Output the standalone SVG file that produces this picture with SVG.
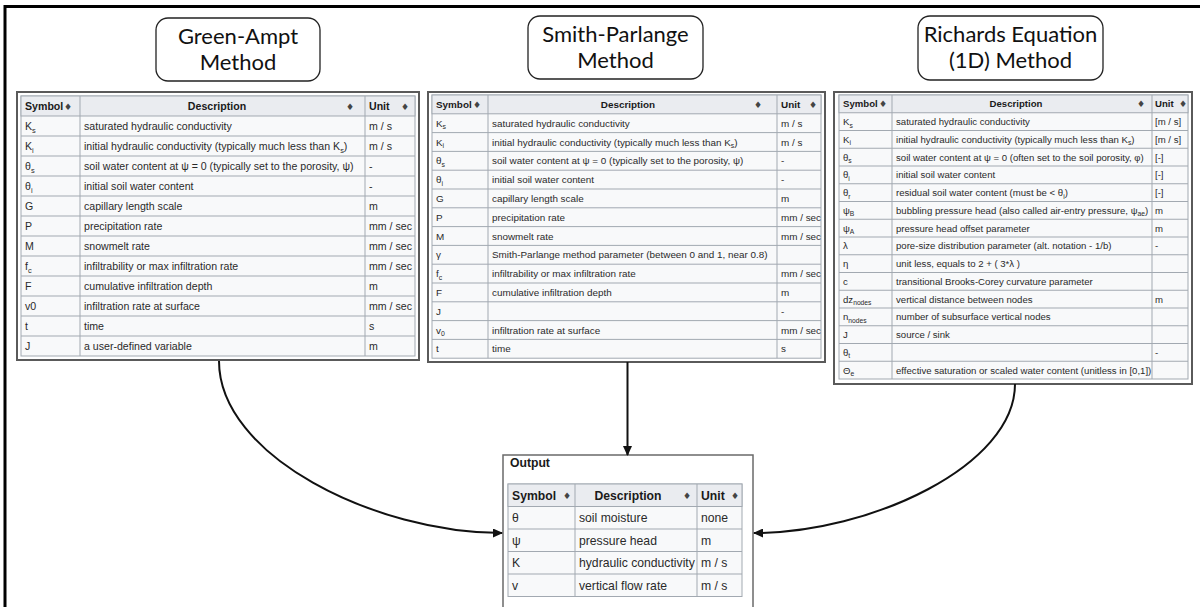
<svg xmlns="http://www.w3.org/2000/svg" width="1200" height="607" viewBox="0 0 1200 607">
  <style>
    .title{font-family:Lato,"Open Sans","Liberation Sans",sans-serif;font-size:22px;fill:#111;text-anchor:middle}
    .tbox{fill:#fff;stroke:#222;stroke-width:1.3}
    .frame{fill:#fff;stroke:#5a5a5a;stroke-width:2}
    .body{fill:#f8f9fa;stroke:#a2a9b1;stroke-width:1}
    .head{fill:#eaecf0;stroke:#a2a9b1;stroke-width:1}
    .grid{fill:none;stroke:#a2a9b1;stroke-width:1}
    .t{font-family:"Liberation Sans",Arial,sans-serif;fill:#2a2a2a}
    .L{font-size:10.6px}
    .M{font-size:9.9px}
    .R{font-size:9.6px}
    .O{font-size:12.2px}
    .b{font-weight:bold;fill:#1a1a1a}
    .sb{font-size:70%}
    .srt{font-family:"DejaVu Sans",sans-serif;font-size:9px;fill:#444}
    .mid{text-anchor:middle}
    .conn{fill:none;stroke:#111;stroke-width:2}
  </style>
  <defs>
    <marker id="arrow" markerUnits="userSpaceOnUse" markerWidth="10" markerHeight="9" refX="9" refY="4.5" orient="auto">
      <path d="M0,0 L10,4.5 L0,9 z" fill="#111"/>
    </marker>
  </defs>

  <rect width="1200" height="607" fill="#fff"/>
  <!-- page border -->
  <path d="M5,607 V6.5 H1200" fill="none" stroke="#000" stroke-width="3"/>

  <!-- method headings -->
  <g id="title-green-ampt">
    <rect class="tbox" x="156" y="18" width="164" height="63" rx="12"/>
    <text class="title" x="238" y="44">Green-Ampt</text>
    <text class="title" x="238" y="70">Method</text>
  </g>
  <g id="title-smith-parlange">
    <rect class="tbox" x="528" y="16" width="175" height="63" rx="12"/>
    <text class="title" x="615.5" y="42">Smith-Parlange</text>
    <text class="title" x="615.5" y="68">Method</text>
  </g>
  <g id="title-richards">
    <rect class="tbox" x="918" y="16" width="185" height="64" rx="12"/>
    <text class="title" x="1010.5" y="42">Richards Equation</text>
    <text class="title" x="1010.5" y="68">(1D) Method</text>
  </g>

  <!-- Green-Ampt parameter table -->
  <g id="table-green-ampt">
    <rect class="frame" x="17" y="92" width="402" height="268"/>
    <rect class="body" x="21" y="96" width="394" height="260"/>
    <rect class="head" x="21" y="96" width="394" height="20"/>
    <path class="grid" d="M21,136H415M21,156H415M21,176H415M21,196H415M21,216H415M21,236H415M21,256H415M21,276H415M21,296H415M21,316H415M21,336H415M80,96V356M365,96V356"/>
    <g class="t L">
      <text class="b" x="25" y="110">Symbol</text><text class="srt" x="64" y="110">♦</text>
      <text class="b mid" x="217" y="110">Description</text><text class="srt" x="346" y="110">♦</text>
      <text class="b" x="369" y="110">Unit</text><text class="srt" x="401" y="110">♦</text>

      <text x="25" y="130">K<tspan class="sb" dy="2.5">s</tspan></text>
      <text x="84" y="130">saturated hydraulic conductivity</text>
      <text x="369" y="130">m / s</text>

      <text x="25" y="150">K<tspan class="sb" dy="2.5">i</tspan></text>
      <text x="84" y="150">initial hydraulic conductivity (typically much less than K<tspan class="sb" dy="2.5">s</tspan><tspan dy="-2.5">)</tspan></text>
      <text x="369" y="150">m / s</text>

      <text x="25" y="170">θ<tspan class="sb" dy="2.5">s</tspan></text>
      <text x="84" y="170">soil water content at ψ = 0 (typically set to the porosity, ψ)</text>
      <text x="369" y="170">-</text>

      <text x="25" y="190">θ<tspan class="sb" dy="2.5">i</tspan></text>
      <text x="84" y="190">initial soil water content</text>
      <text x="369" y="190">-</text>

      <text x="25" y="210">G</text>
      <text x="84" y="210">capillary length scale</text>
      <text x="369" y="210">m</text>

      <text x="25" y="230">P</text>
      <text x="84" y="230">precipitation rate</text>
      <text x="369" y="230">mm / sec</text>

      <text x="25" y="250">M</text>
      <text x="84" y="250">snowmelt rate</text>
      <text x="369" y="250">mm / sec</text>

      <text x="25" y="270">f<tspan class="sb" dy="2.5">c</tspan></text>
      <text x="84" y="270">infiltrability or max infiltration rate</text>
      <text x="369" y="270">mm / sec</text>

      <text x="25" y="290">F</text>
      <text x="84" y="290">cumulative infiltration depth</text>
      <text x="369" y="290">m</text>

      <text x="25" y="310">v0</text>
      <text x="84" y="310">infiltration rate at surface</text>
      <text x="369" y="310">mm / sec</text>

      <text x="25" y="330">t</text>
      <text x="84" y="330">time</text>
      <text x="369" y="330">s</text>

      <text x="25" y="350">J</text>
      <text x="84" y="350">a user-defined variable</text>
      <text x="369" y="350">m</text>
    </g>
  </g>

  <!-- Smith-Parlange parameter table -->
  <g id="table-smith-parlange">
    <rect class="frame" x="428" y="92" width="397" height="270"/>
    <rect class="body" x="432" y="95" width="389" height="263.2"/>
    <rect class="head" x="432" y="95" width="389" height="18.8"/>
    <path class="grid" d="M432,132.6H821M432,151.4H821M432,170.2H821M432,189H821M432,207.8H821M432,226.6H821M432,245.4H821M432,264.2H821M432,283H821M432,301.8H821M432,320.6H821M432,339.4H821M488,95V358.2M777,95V358.2"/>
    <g class="t M">
      <text class="b" x="436" y="108">Symbol</text><text class="srt" x="473" y="108">♦</text>
      <text class="b mid" x="628" y="108">Description</text><text class="srt" x="754" y="108">♦</text>
      <text class="b" x="781" y="108">Unit</text><text class="srt" x="809" y="108">♦</text>

      <text x="436" y="126.7">K<tspan class="sb" dy="2.5">s</tspan></text>
      <text x="492" y="126.7">saturated hydraulic conductivity</text>
      <text x="781" y="126.7">m / s</text>

      <text x="436" y="145.5">K<tspan class="sb" dy="2.5">i</tspan></text>
      <text x="492" y="145.5">initial hydraulic conductivity (typically much less than K<tspan class="sb" dy="2.5">s</tspan><tspan dy="-2.5">)</tspan></text>
      <text x="781" y="145.5">m / s</text>

      <text x="436" y="164.3">θ<tspan class="sb" dy="2.5">s</tspan></text>
      <text x="492" y="164.3">soil water content at ψ = 0 (typically set to the porosity, ψ)</text>
      <text x="781" y="164.3">-</text>

      <text x="436" y="183.1">θ<tspan class="sb" dy="2.5">i</tspan></text>
      <text x="492" y="183.1">initial soil water content</text>
      <text x="781" y="183.1">-</text>

      <text x="436" y="201.9">G</text>
      <text x="492" y="201.9">capillary length scale</text>
      <text x="781" y="201.9">m</text>

      <text x="436" y="220.7">P</text>
      <text x="492" y="220.7">precipitation rate</text>
      <text x="781" y="220.7">mm / sec</text>

      <text x="436" y="239.5">M</text>
      <text x="492" y="239.5">snowmelt rate</text>
      <text x="781" y="239.5">mm / sec</text>

      <text x="436" y="258.3">γ</text>
      <text x="492" y="258.3">Smith-Parlange method parameter (between 0 and 1, near 0.8)</text>

      <text x="436" y="277.1">f<tspan class="sb" dy="2.5">c</tspan></text>
      <text x="492" y="277.1">infiltrability or max infiltration rate</text>
      <text x="781" y="277.1">mm / sec</text>

      <text x="436" y="295.9">F</text>
      <text x="492" y="295.9">cumulative infiltration depth</text>
      <text x="781" y="295.9">m</text>

      <text x="436" y="314.7">J</text>
      <text x="781" y="314.7">-</text>

      <text x="436" y="333.5">v<tspan class="sb" dy="2.5">0</tspan></text>
      <text x="492" y="333.5">infiltration rate at surface</text>
      <text x="781" y="333.5">mm / sec</text>

      <text x="436" y="352.3">t</text>
      <text x="492" y="352.3">time</text>
      <text x="781" y="352.3">s</text>
    </g>
  </g>

  <!-- Richards equation parameter table -->
  <g id="table-richards">
    <rect class="frame" x="834" y="92" width="358" height="292"/>
    <rect class="body" x="839" y="95" width="349" height="284"/>
    <rect class="head" x="839" y="95" width="349" height="17.75"/>
    <path class="grid" d="M839,130.5H1188M839,148.25H1188M839,166H1188M839,183.75H1188M839,201.5H1188M839,219.25H1188M839,237H1188M839,254.75H1188M839,272.5H1188M839,290.25H1188M839,308H1188M839,325.75H1188M839,343.5H1188M839,361.25H1188M892,95V379M1152,95V379"/>
    <g class="t R">
      <text class="b" x="843" y="107.3">Symbol</text><text class="srt" x="879" y="107.3">♦</text>
      <text class="b mid" x="1016" y="107.3">Description</text><text class="srt" x="1137" y="107.3">♦</text>
      <text class="b" x="1155" y="107.3">Unit</text><text class="srt" x="1179" y="107.3">♦</text>

      <text x="843" y="125">K<tspan class="sb" dy="2.5">s</tspan></text>
      <text x="896" y="125">saturated hydraulic conductivity</text>
      <text x="1155" y="125">[m / s]</text>

      <text x="843" y="142.8">K<tspan class="sb" dy="2.5">i</tspan></text>
      <text x="896" y="142.8">initial hydraulic conductivity (typically much less than K<tspan class="sb" dy="2.5">s</tspan><tspan dy="-2.5">)</tspan></text>
      <text x="1155" y="142.8">[m / s]</text>

      <text x="843" y="160.5">θ<tspan class="sb" dy="2.5">s</tspan></text>
      <text x="896" y="160.5">soil water content at ψ = 0 (often set to the soil porosity, φ)</text>
      <text x="1155" y="160.5">[-]</text>

      <text x="843" y="178.3">θ<tspan class="sb" dy="2.5">i</tspan></text>
      <text x="896" y="178.3">initial soil water content</text>
      <text x="1155" y="178.3">[-]</text>

      <text x="843" y="196">θ<tspan class="sb" dy="2.5">r</tspan></text>
      <text x="896" y="196">residual soil water content (must be &lt; θ<tspan class="sb" dy="2.5">i</tspan><tspan dy="-2.5">)</tspan></text>
      <text x="1155" y="196">[-]</text>

      <text x="843" y="213.8">ψ<tspan class="sb" dy="2.5">B</tspan></text>
      <text x="896" y="213.8">bubbling pressure head (also called air-entry pressure, ψ<tspan class="sb" dy="2.5">ae</tspan><tspan dy="-2.5">)</tspan></text>
      <text x="1155" y="213.8">m</text>

      <text x="843" y="231.5">ψ<tspan class="sb" dy="2.5">A</tspan></text>
      <text x="896" y="231.5">pressure head offset parameter</text>
      <text x="1155" y="231.5">m</text>

      <text x="843" y="249.3">λ</text>
      <text x="896" y="249.3">pore-size distribution parameter (alt. notation - 1/b)</text>
      <text x="1155" y="249.3">-</text>

      <text x="843" y="267">η</text>
      <text x="896" y="267">unit less, equals to 2 + ( 3*λ )</text>

      <text x="843" y="284.8">c</text>
      <text x="896" y="284.8">transitional Brooks-Corey curvature parameter</text>

      <text x="843" y="302.5">dz<tspan class="sb" dy="2.5">nodes</tspan></text>
      <text x="896" y="302.5">vertical distance between nodes</text>
      <text x="1155" y="302.5">m</text>

      <text x="843" y="320.3">n<tspan class="sb" dy="2.5">nodes</tspan></text>
      <text x="896" y="320.3">number of subsurface vertical nodes</text>

      <text x="843" y="338">J</text>
      <text x="896" y="338">source / sink</text>

      <text x="843" y="355.8">θ<tspan class="sb" dy="2.5">t</tspan></text>
      <text x="1155" y="355.8">-</text>

      <text x="843" y="373.5">Θ<tspan class="sb" dy="2.5">e</tspan></text>
      <text x="896" y="373.5">effective saturation or scaled water content (unitless in [0,1])</text>
    </g>
  </g>

  <!-- model output table -->
  <g id="output">
    <rect x="503" y="455" width="250" height="170" fill="#fff" stroke="#6a6a6a" stroke-width="1.5"/>
    <text class="t O b" x="510" y="467">Output</text>
    <rect class="body" x="508" y="484" width="234" height="112.5"/>
    <rect class="head" x="508" y="484" width="234" height="22.5"/>
    <path class="grid" d="M508,529H742M508,551.5H742M508,574H742M575,484V596.5M697,484V596.5"/>
    <g class="t O">
      <text class="b" x="512" y="499.5">Symbol</text><text class="srt" x="563" y="499">♦</text>
      <text class="b mid" x="628" y="499.5">Description</text><text class="srt" x="683" y="499">♦</text>
      <text class="b" x="701" y="499.5">Unit</text><text class="srt" x="731" y="499">♦</text>

      <text x="512" y="522">θ</text>
      <text x="579" y="522">soil moisture</text>
      <text x="701" y="522">none</text>

      <text x="512" y="544.5">ψ</text>
      <text x="579" y="544.5">pressure head</text>
      <text x="701" y="544.5">m</text>

      <text x="512" y="567">K</text>
      <text x="579" y="567">hydraulic conductivity</text>
      <text x="701" y="567">m / s</text>

      <text x="512" y="589.5">v</text>
      <text x="579" y="589.5">vertical flow rate</text>
      <text x="701" y="589.5">m / s</text>
    </g>
  </g>

  <!-- connectors -->
  <g id="connectors">
    <path class="conn" d="M219,361 C219,456 375,533 502,533" marker-end="url(#arrow)"/>
    <path class="conn" d="M627.5,362 V455" stroke-width="2.5" marker-end="url(#arrow)"/>
    <path class="conn" d="M1015,384 C1015,466 870,533 754,533" marker-end="url(#arrow)"/>
  </g>
</svg>
